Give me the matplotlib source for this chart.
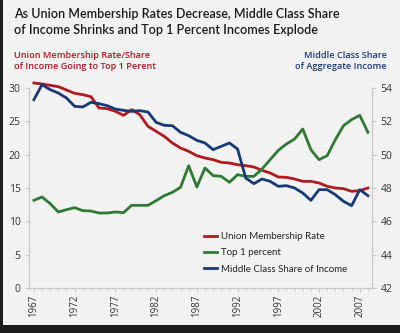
import matplotlib
matplotlib.use("Agg")
import matplotlib.pyplot as plt
from matplotlib.patches import Rectangle

years = list(range(1967, 2009))
union_rate = [30.75, 30.6, 30.4, 30.2, 29.7, 29.2, 29.0, 28.7, 27.0, 26.9,
              26.5, 25.9, 26.75, 26.0, 24.25, 23.5, 22.75, 21.75, 21.0, 20.5,
              19.85, 19.5, 19.25, 18.85, 18.75, 18.5, 18.35, 18.15, 17.65, 17.25,
              16.65, 16.6, 16.35, 16.0, 16.0, 15.75, 15.25, 15.0, 14.9, 14.5,
              14.6, 15.0]
top1 = [13.15, 13.65, 12.65, 11.4, 11.75, 12.05, 11.6, 11.55, 11.25, 11.25,
        11.4, 11.3, 12.4, 12.4, 12.4, 13.1, 13.85, 14.35, 15.1, 18.35,
        15.15, 18.0, 16.85, 16.75, 15.85, 17.0, 16.75, 16.75, 17.85, 19.25,
        20.65, 21.6, 22.35, 23.85, 20.75, 19.25, 19.85, 22.25, 24.35, 25.25,
        25.9, 23.35]
middle_share = [53.3, 54.2, 53.9, 53.7, 53.4, 52.9, 52.86, 53.14, 53.06, 52.94,
                52.74, 52.66, 52.6, 52.64, 52.56, 51.94, 51.76, 51.74, 51.34, 51.14,
                50.86, 50.7, 50.3, 50.5, 50.7, 50.34, 48.6, 48.26, 48.54, 48.4,
                48.1, 48.14, 48.0, 47.7, 47.26, 47.9, 47.9, 47.6, 47.2, 46.94,
                47.9, 47.54]
xtick_years = [1967, 1972, 1977, 1982, 1987, 1992, 1997, 2002, 2007]
left_ticks = [0, 5, 10, 15, 20, 25, 30]
right_ticks = [42, 44, 46, 48, 50, 52, 54]

title = "As Union Membership Rates Decrease, Middle Class Share\nof Income Shrinks and Top 1 Percent Incomes Explode"
left_label = "Union Membership Rate/Share\nof Income Going to Top 1 Perent"
right_label = "Middle Class Share\nof Aggregate Income"
labels = ["Union Membership Rate", "Top 1 percent", "Middle Class Share of Income"]

RED = "#b01a1f"
GREEN = "#2f7a32"
BLUE = "#163a78"
BG = "#f2f2f2"
TXT = "#333333"
AX = "#c8c8c8"

plt.rcParams['font.family'] = ['Open Sans', 'DejaVu Sans']

fig = plt.figure(figsize=(4.0, 3.33), dpi=100, facecolor="#1c1c1c")
fig.patches.append(Rectangle((2.5/400, 8/333), 1, 1, transform=fig.transFigure,
                             facecolor=BG, edgecolor="none", zorder=-10))

ax = fig.add_axes([29/400, 1-288/333, (372-29)/400, 200/333])
ax.set_facecolor(BG)
ax2 = ax.twinx()

l1, = ax.plot(years, union_rate, color=RED, lw=2.0, clip_on=False)
l2, = ax.plot(years, top1, color=GREEN, lw=2.0, clip_on=False)
l3, = ax2.plot(years, middle_share, color=BLUE, lw=2.0, clip_on=False)

ax.set_xlim(1966.4, 2008.5)
ax.set_ylim(0, 30)
ax2.set_ylim(42, 54)
ax.set_yticks(left_ticks)
ax2.set_yticks(right_ticks)
ax.set_xticks(xtick_years)
ax.set_xticks(years, minor=True)
ax.set_xticklabels([str(y) for y in xtick_years], rotation=90)

for a in (ax, ax2):
    for s in a.spines.values():
        s.set_color(AX)
        s.set_linewidth(0.8)
    a.spines['top'].set_visible(False)
ax.tick_params(axis='x', which='both', length=3, color=AX, labelsize=7, labelcolor=TXT, pad=2)
ax.tick_params(axis='x', which='minor', length=2)
ax.tick_params(axis='y', length=3, color=AX, labelsize=7.5, labelcolor=TXT, pad=3)
ax2.tick_params(axis='y', length=3, color=AX, labelsize=7.5, labelcolor=TXT, pad=3)

fig.text(14/400, 1-8/333, title, ha='left', va='top', fontsize=9.0,
         color="#1a1a1a", linespacing=1.35, family=['Lato', 'DejaVu Sans'],
         fontweight='semibold')
fig.text(14/400, 1-51/333, left_label, ha='left', va='top', fontsize=6.6,
         color=RED, fontweight='semibold', linespacing=1.3)
fig.text(387/400, 1-51/333, right_label, ha='right', va='top', fontsize=6.6,
         color=BLUE, fontweight='semibold', linespacing=1.3, multialignment='right')

leg = ax.legend([l1, l2, l3], labels, loc='upper left',
                bbox_to_anchor=(204/400, 1-232/333), bbox_transform=fig.transFigure,
                frameon=False, handlelength=1.3, handletextpad=0.4,
                labelspacing=0.75, borderpad=0, borderaxespad=0,
                prop={'family': ['Lato', 'DejaVu Sans'], 'size': 7.0})
for t in leg.get_texts():
    t.set_color("#222222")

fig.savefig("out.png", dpi=100, facecolor=fig.get_facecolor())
